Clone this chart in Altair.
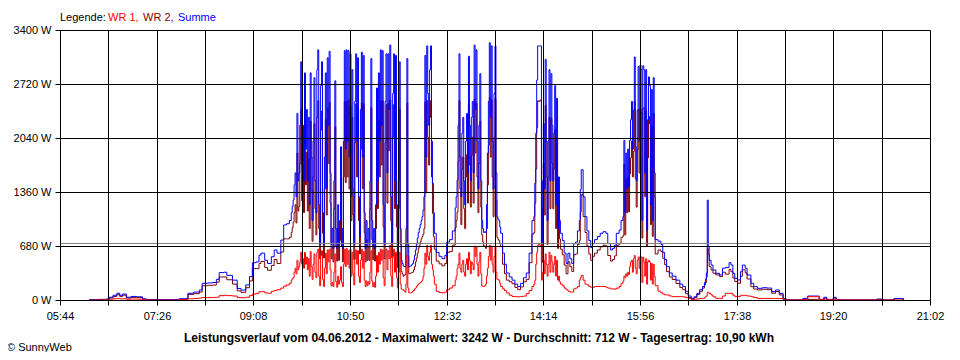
import altair as alt
import pandas as pd

# ---------------- data ----------------
# sampling times, minutes after midnight (1-minute sampling where the curve is spiky)
minutes = (
    [375, 385, 393, 396, 400, 404, 407, 410, 414, 419,
     425, 431, 435, 462, 470, 477, 479, 485, 491, 494,
     500, 505, 509, 512, 517, 520, 526, 531, 535, 540,
     544, 547, 551, 554, 556, 560, 563, 567, 570, 573,
     577, 580, 583, 586, 588]
    + list(range(589, 740))
    + [741, 744, 747, 750, 752, 755, 758]
    + list(range(761, 810))
    + [811, 813, 815, 818, 821, 824, 827, 830, 833, 836, 839, 842]
    + list(range(844, 873))
    + [874, 876, 878, 880, 882, 884, 886, 888, 890, 892,
       893, 894, 896, 898, 900, 902, 904, 906, 908, 911,
       914, 917, 920, 922, 925, 927, 929, 931, 934, 936,
       938]
    + list(range(939, 972))
    + [972, 975, 978, 980, 982, 984, 987, 990, 994, 998,
       1001, 1004, 1007, 1010, 1013, 1016, 1019, 1022, 1024, 1025,
       1026, 1027, 1028, 1029, 1031, 1033, 1036, 1040, 1043, 1046,
       1049, 1050, 1052, 1054, 1056, 1059, 1062, 1064, 1067, 1069,
       1073, 1076, 1080, 1085, 1090, 1095, 1099, 1103, 1107, 1110,
       1125, 1128, 1133, 1143, 1145, 1150, 1153, 1160, 1163, 1166,
       1205, 1206, 1211, 1224, 1232, 1234]
)

summe = [
    5, 8, 12, 35, 60, 85, 60, 75, 35, 45,
    40, 15, 5, 5, 15, 18, 85, 100, 125, 210,
    215, 220, 260, 345, 350, 310, 250, 145, 125, 190,
    295, 470, 480, 565, 590, 500, 460, 545, 630, 590,
    755, 945, 960, 1000, 1100,
    # 589 - 739
    1180, 1260, 1450, 1600, 1300, 2350, 1500, 1600, 2200, 3000,
    1700, 2200, 1500, 2860, 1900, 2400, 1500, 2300, 1200, 2860,
    1800, 1000, 2000, 2800, 1500, 1100, 2900, 3150, 1200, 700,
    2700, 3000, 1100, 700, 1800, 2860, 1400, 3050, 2200, 3130,
    1600, 700, 900, 650, 1500, 2760, 900, 650, 1200, 700,
    1000, 1930, 900, 650, 2000, 3140, 1900, 3150, 2000, 3140,
    1800, 3100, 1300, 2900, 1400, 700, 2500, 3100, 2000, 3050,
    1300, 800, 2400, 3120, 1800, 3080, 1100, 650, 1000, 680,
    900, 700, 1500, 3040, 1000, 680, 900, 650, 1200, 2670,
    1500, 2860, 2000, 3150, 2200, 3140, 1200, 700, 2500, 3100,
    1600, 3100, 2400, 3210, 1300, 700, 2600, 3100, 1500, 3080,
    1200, 560, 1500, 3000, 900, 500, 460, 430, 420, 420,
    900, 3040, 700, 420, 425, 430, 445, 460, 500, 560,
    630, 700, 780, 850, 900, 950, 1000, 1050, 1130, 1300,
    3080, 1800, 3200, 2600, 2200, 2900, 3200, 2000, 1470, 1100,
    840,
    # 741 - 758
    600, 550, 520, 560, 730, 760, 870,
    # 761 - 809
    1160, 1300, 1510, 2200, 3100, 1800, 1300, 2100, 2300, 1500,
    1200, 2000, 2350, 1600, 3070, 2200, 1500, 2300, 2500, 1600,
    3210, 2400, 3150, 2000, 1400, 2200, 2850, 1500, 1000, 900,
    850, 860, 850, 1200, 1850, 2500, 3240, 2300, 3200, 2000,
    1400, 2600, 3200, 1600, 1050, 1020, 1000, 920, 840,
    # 811 - 842
    590, 450, 340, 290, 250, 200, 170, 210, 280, 340, 590, 1000,
    # 844 - 872
    1050, 1470, 2100, 2770, 3200, 3200, 3200, 3200, 720, 1500,
    2220, 1400, 3030, 2000, 1000, 2000, 2900, 1500, 2850, 2200,
    1500, 2100, 2700, 1200, 2540, 900, 1550, 1000, 840,
    # 874 - 938
    750, 590, 460, 590, 520, 460, 710, 730, 870, 1000,
    1390, 1640, 1300, 1050, 870, 750, 660, 710, 760, 800,
    840, 860, 840, 710, 630, 650, 690, 840, 880, 1000,
    1050,
    # 939 - 971
    2010, 1100, 1850, 1400, 1900, 1430, 2010, 2270, 2500, 1900,
    2390, 3060, 1930, 1500, 2390, 2940, 2000, 2960, 2900, 1000,
    2950, 2900, 1600, 2900, 880, 2270, 2810, 2700, 1200, 2650,
    1000, 2800, 1600,
    # 972 - 1234
    760, 740, 700, 600, 510, 420, 340, 300, 250, 200,
    170, 110, 50, 20, 40, 84, 130, 170, 220, 260,
    340, 1259, 670, 500, 440, 378, 336, 315, 400, 410,
    410, 470, 440, 336, 273, 252, 357, 440, 400, 315,
    210, 168, 147, 155, 150, 105, 126, 84, 20, 0,
    0, 20, 50, 50, 8, 34, 8, 34, 8, 0,
    0, 10, 0, 17, 17, 0,
]

wr1 = [
    0, 2, 3, 10, 15, 18, 15, 15, 10, 12,
    10, 5, 0, 0, 5, 8, 15, 20, 25, 30,
    30, 32, 35, 55, 60, 55, 50, 30, 28, 35,
    55, 75, 85, 105, 105, 90, 85, 110, 120, 130,
    150, 175, 190, 210, 250,
    # 589 - 739
    270, 280, 350, 400, 330, 500, 380, 420, 480, 600,
    450, 520, 400, 600, 450, 540, 380, 520, 300, 610,
    420, 260, 450, 580, 350, 280, 600, 640, 300, 180,
    560, 620, 260, 170, 400, 590, 330, 630, 480, 640,
    380, 180, 220, 170, 350, 580, 230, 160, 300, 200,
    250, 420, 220, 170, 450, 640, 420, 650, 450, 620,
    400, 640, 300, 600, 330, 190, 520, 630, 450, 620,
    300, 220, 500, 640, 400, 610, 250, 170, 240, 180,
    230, 200, 350, 620, 240, 170, 220, 160, 300, 560,
    350, 600, 450, 640, 500, 630, 280, 180, 520, 640,
    380, 620, 520, 690, 300, 170, 550, 640, 350, 600,
    280, 150, 350, 600, 200, 140, 130, 130, 110, 100,
    200, 560, 150, 90, 90, 90, 100, 110, 120, 140,
    150, 170, 190, 200, 210, 220, 230, 250, 300, 400,
    590, 450, 690, 550, 500, 600, 690, 450, 380, 300,
    200,
    # 741 - 758
    110, 95, 90, 100, 130, 150, 180,
    # 761 - 809
    250, 300, 400, 450, 590, 400, 350, 450, 500, 350,
    300, 450, 520, 380, 600, 500, 330, 480, 450, 380,
    680, 550, 670, 450, 300, 480, 600, 330, 180, 170,
    170, 180, 200, 300, 400, 550, 690, 500, 680, 450,
    350, 550, 670, 350, 260, 255, 250, 210, 170,
    # 811 - 842
    140, 120, 90, 60, 45, 42, 40, 45, 50, 80, 120, 170,
    # 844 - 872
    200, 250, 450, 600, 690, 700, 690, 680, 250, 350,
    500, 330, 580, 450, 300, 450, 600, 350, 560, 480,
    350, 450, 550, 300, 500, 250, 300, 230, 200,
    # 874 - 938
    180, 150, 130, 110, 100, 100, 140, 150, 170, 250,
    280, 310, 250, 200, 190, 170, 160, 160, 170, 170,
    170, 170, 160, 150, 140, 140, 135, 150, 170, 210,
    240,
    # 939 - 971
    300, 280, 330, 300, 350, 320, 420, 480, 500, 350,
    520, 560, 400, 330, 500, 540, 400, 550, 540, 220,
    540, 480, 300, 520, 200, 480, 500, 480, 250, 460,
    200, 450, 300,
    # 972 - 1234
    180, 110, 90, 75, 65, 63, 50, 42, 42, 42,
    40, 30, 20, 8, 10, 15, 20, 20, 30, 42,
    50, 97, 97, 80, 63, 40, 20, 20, 50, 84,
    84, 84, 84, 60, 42, 42, 59, 59, 59, 50,
    42, 30, 20, 20, 20, 20, 20, 20, 10, 0,
    0, 5, 42, 42, 5, 10, 3, 10, 3, 0,
    0, 0, 0, 0, 0, 0,
]

wr2 = [
    5, 6, 9, 25, 45, 67, 45, 60, 25, 33,
    30, 10, 5, 5, 10, 10, 70, 80, 100, 180,
    185, 188, 225, 290, 290, 255, 200, 115, 97, 155,
    240, 395, 395, 460, 485, 410, 375, 435, 510, 460,
    605, 770, 770, 790, 850,
    # 589 - 739
    910, 980, 1100, 1200, 970, 1850, 1120, 1180, 1720, 2400,
    1250, 1680, 1100, 2260, 1450, 1860, 1120, 1780, 900, 2250,
    1380, 740, 1550, 2220, 1150, 820, 2300, 2510, 900, 520,
    2140, 2380, 840, 530, 1400, 2270, 1070, 2420, 1720, 2490,
    1220, 520, 680, 480, 1150, 2180, 670, 490, 900, 500,
    750, 1510, 680, 480, 1550, 2500, 1480, 2500, 1550, 2520,
    1400, 2460, 1000, 2300, 1070, 510, 1980, 2470, 1550, 2430,
    1000, 580, 1900, 2480, 1400, 2470, 850, 480, 760, 500,
    670, 500, 1150, 2420, 760, 510, 680, 490, 900, 2110,
    1150, 2260, 1550, 2510, 1700, 2510, 920, 520, 1980, 2460,
    1220, 2480, 1880, 2520, 1000, 530, 2050, 2460, 1150, 2480,
    920, 410, 1150, 2400, 700, 360, 330, 300, 310, 320,
    700, 2480, 550, 330, 335, 340, 345, 350, 380, 420,
    480, 530, 590, 650, 690, 730, 770, 800, 830, 900,
    2490, 1350, 2510, 2050, 1700, 2300, 2510, 1550, 1090, 800,
    640,
    # 741 - 758
    490, 455, 430, 460, 600, 610, 690,
    # 761 - 809
    910, 1000, 1110, 1750, 2510, 1400, 950, 1650, 1800, 1150,
    900, 1550, 1830, 1220, 2470, 1700, 1170, 1820, 2050, 1220,
    2530, 1850, 2480, 1550, 1100, 1720, 2250, 1170, 820, 730,
    680, 680, 650, 900, 1450, 1950, 2550, 1800, 2520, 1550,
    1050, 2050, 2530, 1250, 790, 765, 750, 710, 670,
    # 811 - 842
    450, 330, 250, 230, 205, 158, 130, 165, 230, 260, 470, 830,
    # 844 - 872
    850, 1220, 1650, 2170, 2510, 2500, 2510, 2520, 470, 1150,
    1720, 1070, 2450, 1550, 700, 1550, 2300, 1150, 2290, 1720,
    1150, 1650, 2150, 900, 2040, 650, 1250, 770, 640,
    # 874 - 938
    570, 440, 330, 480, 420, 360, 570, 580, 700, 750,
    1110, 1330, 1050, 850, 680, 580, 500, 550, 590, 630,
    670, 690, 680, 560, 490, 510, 555, 690, 710, 790,
    810,
    # 939 - 971
    1710, 820, 1520, 1100, 1550, 1110, 1590, 1790, 2000, 1550,
    1870, 2500, 1530, 1170, 1890, 2400, 1600, 2410, 2360, 780,
    2410, 2420, 1300, 2380, 680, 1790, 2310, 2220, 950, 2190,
    800, 2350, 1300,
    # 972 - 1234
    580, 630, 610, 525, 445, 357, 290, 258, 208, 158,
    130, 80, 30, 12, 30, 69, 110, 150, 190, 218,
    290, 650, 573, 420, 377, 338, 316, 295, 350, 326,
    326, 386, 356, 276, 231, 210, 298, 381, 341, 265,
    168, 138, 127, 135, 130, 85, 106, 64, 10, 0,
    0, 15, 8, 8, 3, 24, 5, 24, 5, 0,
    0, 10, 0, 17, 17, 0,
]

average_w = [712]

x_tick_minutes = [344, 395, 446, 497, 548, 599, 650, 701, 752, 803,
                  854, 905, 956, 1007, 1058, 1109, 1160, 1211, 1262]
x_tick_labels = ["05:44", "", "07:26", "", "09:08", "", "10:50", "", "12:32", "",
                 "14:14", "", "15:56", "", "17:38", "", "19:20", "", "21:02"]
y_tick_values = [0, 680, 1360, 2040, 2720, 3400]

legend_parts = ["Legende:", "WR 1,", "WR 2,", "Summe"]
legend_colors = ["#000000", "#FF0000", "#800000", "#0000FF"]
legend_offsets = [0, 48, 83, 118]
title_text = ("Leistungsverlauf vom 04.06.2012 - Maximalwert: 3242 W - "
              "Durchschnitt: 712 W - Tagesertrag: 10,90 kWh")
footer_text = "\u00a9 SunnyWeb"

# ---------------- chart ----------------
FONT = "Liberation Sans"
W, H = 870, 270
X0, X1 = 344, 1262

df = pd.DataFrame({"t": minutes, "wr1": wr1, "wr2": wr2, "summe": summe})

# snap grid/tick positions to whole pixels so the black grid stays crisp
px_per_min = W / (X1 - X0)
tick_pos = [X0 + round((m - X0) * px_per_min) / px_per_min for m in x_tick_minutes]

label_array = "[" + ",".join("'" + s + "'" for s in x_tick_labels) + "]"
x_label_expr = label_array + "[round((datum.value - 344) / 51)]"

common_axis = dict(
    grid=True, gridColor="#000000", gridOpacity=1, gridWidth=1,
    domainColor="#000000", domainWidth=1,
    tickColor="#000000", tickWidth=1, tickSize=5,
    labelColor="#000000", labelFont=FONT, labelFontSize=11,
    labelOverlap=False, labelFlush=False, labelBound=False,
    title=None, zindex=1,
)

x_scale = alt.Scale(domain=[X0, X1], nice=False, zero=False)
y_scale = alt.Scale(domain=[0, 3400], nice=False, zero=True)
x_axis = alt.Axis(values=tick_pos, labelExpr=x_label_expr,
                  labelPadding=5, **common_axis)
y_axis = alt.Axis(values=y_tick_values, labelExpr="datum.value + ' W'",
                  labelPadding=4, **common_axis)


def xenc():
    return alt.X("t:Q", scale=x_scale, axis=x_axis)


def yenc(field):
    return alt.Y(field + ":Q", scale=y_scale, axis=y_axis)


base = alt.Chart(df)

wr2_line = base.mark_line(color="#800000", strokeWidth=1, interpolate="step-after").encode(
    x=xenc(), y=yenc("wr2"))
summe_line = base.mark_line(color="#0000FF", strokeWidth=1, interpolate="step-after").encode(
    x=xenc(), y=yenc("summe"))
wr1_line = base.mark_line(color="#FF0000", strokeWidth=1, interpolate="step-after").encode(
    x=xenc(), y=yenc("wr1"))

avg_rule = alt.Chart(pd.DataFrame({"avg": average_w})).mark_rule(
    color="#808080", strokeWidth=1).encode(y=yenc("avg"))

layers = [wr2_line, summe_line, wr1_line, avg_rule]

for part, col, off in zip(legend_parts, legend_colors, legend_offsets):
    layers.append(
        alt.Chart(pd.DataFrame({"s": [part]})).mark_text(
            align="left", baseline="alphabetic", font=FONT, fontSize=11, color=col
        ).encode(text="s:N", x=alt.value(off), y=alt.value(-9))
    )

layers.append(
    alt.Chart(pd.DataFrame({"s": [title_text]})).mark_text(
        align="center", baseline="alphabetic", font=FONT, fontSize=12,
        fontWeight="bold", color="#000000"
    ).encode(text="s:N", x=alt.value(419), y=alt.value(312))
)
layers.append(
    alt.Chart(pd.DataFrame({"s": [footer_text]})).mark_text(
        align="left", baseline="alphabetic", font=FONT, fontSize=11, color="#000000"
    ).encode(text="s:N", x=alt.value(-53), y=alt.value(321))
)

chart = alt.layer(*layers).properties(
    width=W, height=H,
    padding={"left": 52, "top": 22, "right": 20, "bottom": 52},
    autosize=alt.AutoSizeParams(type="none"),
    background="white",
).configure_view(stroke=None)

chart.save("out.html", embed_options={"renderer": "svg", "actions": False})
